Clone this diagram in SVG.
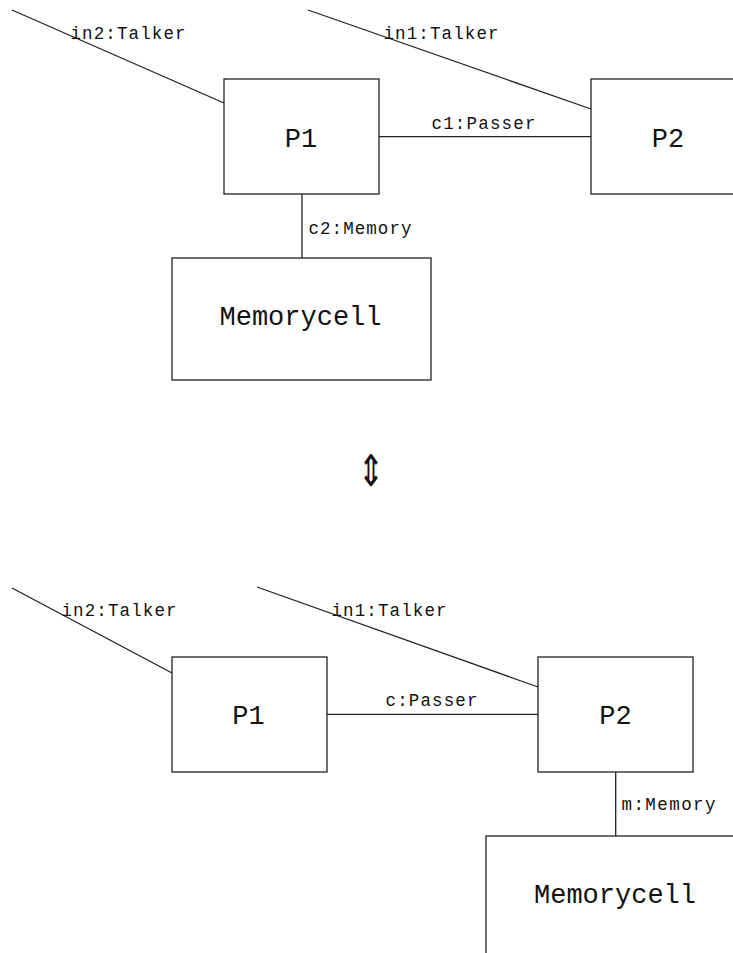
<svg xmlns="http://www.w3.org/2000/svg" width="733" height="953" viewBox="0 0 733 953">
<style>
.box{fill:none;stroke:#222;stroke-width:1.3}
.ln{fill:none;stroke:#222;stroke-width:1.3}
.lbl{font-family:"Liberation Mono",monospace;font-size:17.5px;fill:#111}
.big{font-family:"Liberation Mono",monospace;font-size:27px;fill:#111;text-anchor:middle}
</style>
<rect width="733" height="953" fill="#fff"/>
<g id="connectors">
<line class="ln" x1="12" y1="10" x2="224" y2="103"/>
<line class="ln" x1="308" y1="10" x2="591" y2="109"/>
<line class="ln" x1="379" y1="136.7" x2="591" y2="136.7"/>
<line class="ln" x1="302" y1="194" x2="302" y2="258"/>
<line class="ln" x1="12" y1="588" x2="172" y2="673"/>
<line class="ln" x1="257" y1="587" x2="538" y2="687"/>
<line class="ln" x1="327" y1="714.3" x2="538" y2="714.3"/>
<line class="ln" x1="615.7" y1="772" x2="615.7" y2="836"/>
<text class="lbl" x="70.5" y="39" textLength="115" lengthAdjust="spacing">in2:Talker</text>
<text class="lbl" x="383.5" y="39" textLength="115" lengthAdjust="spacing">in1:Talker</text>
<text class="lbl" x="431.5" y="129" textLength="104" lengthAdjust="spacing">c1:Passer</text>
<text class="lbl" x="308.5" y="233.5" textLength="103" lengthAdjust="spacing">c2:Memory</text>
<text class="lbl" x="61.5" y="615.5" textLength="115" lengthAdjust="spacing">in2:Talker</text>
<text class="lbl" x="331.5" y="615.5" textLength="115" lengthAdjust="spacing">in1:Talker</text>
<text class="lbl" x="385.5" y="706" textLength="92" lengthAdjust="spacing">c:Passer</text>
<text class="lbl" x="621.5" y="810" textLength="94" lengthAdjust="spacing">m:Memory</text>
</g>
<g id="top-P1">
<rect class="box" x="224" y="79" width="155" height="115"/>
<text class="big" x="301" y="147">P1</text>
</g>
<g id="top-P2">
<rect class="box" x="591" y="79" width="155" height="115"/>
<text class="big" x="668" y="147">P2</text>
</g>
<g id="top-Memorycell">
<rect class="box" x="172" y="258" width="259" height="122"/>
<text class="big" x="300.5" y="325">Memorycell</text>
</g>
<g id="equiv" transform="translate(371,486) scale(1.05,1.45)">
<text x="0" y="0" font-family="DejaVu Sans,sans-serif" font-size="30" text-anchor="middle" fill="#111">⇕</text>
</g>
<g id="bottom-P1">
<rect class="box" x="172" y="657" width="155" height="115"/>
<text class="big" x="248.5" y="724">P1</text>
</g>
<g id="bottom-P2">
<rect class="box" x="538" y="657" width="155" height="115"/>
<text class="big" x="615.5" y="724">P2</text>
</g>
<g id="bottom-Memorycell">
<rect class="box" x="486" y="836" width="259" height="122"/>
<text class="big" x="615" y="903">Memorycell</text>
</g>
</svg>
